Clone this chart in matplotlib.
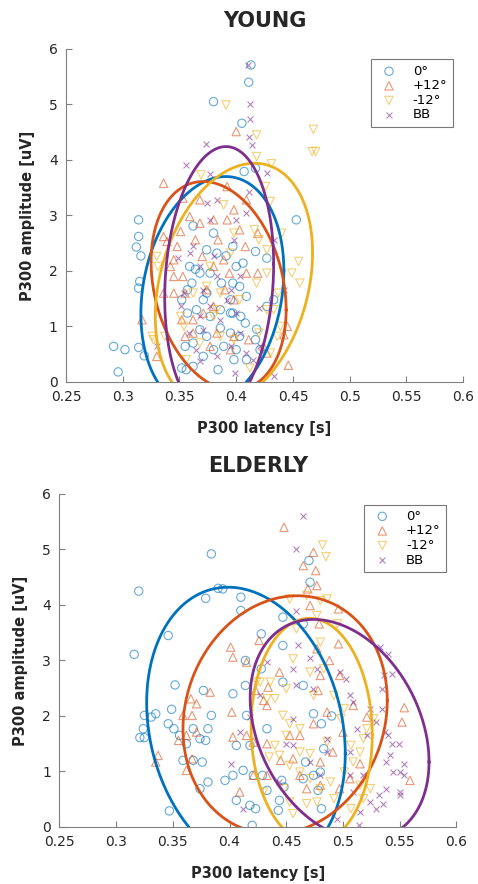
import numpy as np
import matplotlib
matplotlib.use('Agg')
import matplotlib.pyplot as plt

# Cores padrão do MATLAB
cores = ['#0072BD', '#D95319', '#EDB120', '#7E2F8E']
marcadores = ['o', '^', 'v', 'x']
rotulos = ['0°', '+12°', '-12°', 'BB']

# ---------------- YOUNG ----------------
young_0_x = [0.413, 0.411, 0.380, 0.405, 0.407, 0.417, 0.453, 0.314, 0.314, 0.312, 0.316, 0.315, 0.314,
             0.292, 0.302, 0.296, 0.314, 0.319, 0.362, 0.427, 0.417, 0.427, 0.433, 0.418, 0.417, 0.421,
             0.352, 0.362, 0.356, 0.384, 0.398, 0.409, 0.359, 0.364, 0.368, 0.361, 0.357, 0.352, 0.357,
             0.365, 0.374, 0.377, 0.383, 0.380, 0.387, 0.395, 0.397, 0.403, 0.400, 0.406, 0.397, 0.404,
             0.409, 0.408, 0.395, 0.386, 0.374, 0.368, 0.362, 0.355, 0.380, 0.371, 0.389, 0.403, 0.400,
             0.395, 0.386, 0.377, 0.371, 0.397, 0.391, 0.374]
young_0_y = [5.71, 5.40, 5.05, 4.66, 3.79, 3.85, 2.92, 2.92, 2.62, 2.43, 2.27, 1.81, 1.69,
             0.64, 0.58, 0.18, 0.62, 0.47, 2.81, 2.23, 2.35, 1.36, 1.48, 0.95, 0.76, 0.58,
             0.25, 0.28, 0.22, 0.22, 0.40, 0.40, 2.08, 2.03, 1.96, 1.78, 1.66, 1.48, 1.24,
             1.30, 1.60, 1.96, 2.32, 2.68, 1.78, 1.48, 1.24, 1.72, 2.08, 2.14, 2.44, 1.18,
             1.54, 1.06, 0.88, 0.97, 0.82, 0.94, 0.70, 0.64, 0.58, 0.46, 0.64, 0.82, 0.58,
             1.24, 1.30, 1.18, 1.48, 1.78, 2.27, 2.38]

young_p12_x = [0.400, 0.336, 0.353, 0.317, 0.330, 0.446, 0.445, 0.442, 0.336, 0.339, 0.351, 0.348, 0.345,
               0.342, 0.345, 0.353, 0.345, 0.336, 0.355, 0.368, 0.368, 0.364, 0.370, 0.380, 0.392, 0.398,
               0.392, 0.409, 0.403, 0.419, 0.408, 0.389, 0.380, 0.394, 0.409, 0.390, 0.380, 0.371, 0.362,
               0.352, 0.355, 0.362, 0.383, 0.398, 0.411, 0.424, 0.395, 0.377, 0.427, 0.419, 0.398, 0.374,
               0.384, 0.359]
young_p12_y = [4.51, 3.58, 3.31, 1.12, 0.46, 0.30, 1.00, 0.85, 2.62, 2.53, 2.71, 2.44, 2.20,
               2.08, 1.90, 1.90, 1.60, 1.60, 1.60, 3.28, 2.86, 2.56, 2.26, 2.92, 2.92, 3.10,
               3.52, 3.28, 2.74, 2.68, 2.44, 2.20, 2.08, 1.96, 1.96, 1.66, 1.36, 1.24, 1.12,
               1.12, 0.82, 0.88, 0.88, 0.82, 0.76, 0.64, 0.58, 0.64, 0.52, 1.96, 1.48, 1.66,
               2.56, 2.98]

young_m12_x = [0.391, 0.418, 0.468, 0.467, 0.470, 0.418, 0.431, 0.369, 0.389, 0.426, 0.430, 0.416, 0.420,
               0.427, 0.440, 0.455, 0.449, 0.456, 0.418, 0.427, 0.437, 0.433, 0.427, 0.330, 0.331, 0.326,
               0.327, 0.337, 0.351, 0.354, 0.377, 0.374, 0.386, 0.395, 0.383, 0.386, 0.398, 0.412, 0.430,
               0.436, 0.439, 0.368, 0.362, 0.398, 0.420, 0.380, 0.356, 0.403]
young_m12_y = [4.99, 4.45, 4.55, 4.15, 4.15, 4.06, 3.93, 3.73, 3.19, 3.52, 3.25, 2.74, 2.56,
               2.38, 2.68, 2.17, 1.96, 1.78, 1.78, 1.96, 1.60, 1.30, 1.30, 2.26, 2.08, 0.82,
               0.76, 0.82, 1.18, 1.00, 2.08, 1.72, 1.60, 2.32, 1.30, 0.82, 0.76, 0.25, 0.52,
               0.82, 1.00, 0.70, 1.60, 2.68, 0.88, 1.18, 0.40, 1.48]

young_bb_x = [0.410, 0.412, 0.412, 0.411, 0.414, 0.373, 0.356, 0.427, 0.377, 0.411, 0.383, 0.374, 0.409,
              0.400, 0.377, 0.433, 0.398, 0.362, 0.349, 0.359, 0.368, 0.383, 0.403, 0.420, 0.442, 0.392,
              0.377, 0.368, 0.354, 0.351, 0.358, 0.371, 0.386, 0.400, 0.395, 0.383, 0.368, 0.399, 0.433,
              0.365, 0.409, 0.421, 0.415, 0.403, 0.330, 0.380, 0.395, 0.371]
young_bb_y = [5.71, 5.01, 4.73, 4.42, 4.27, 4.28, 3.91, 3.76, 3.75, 3.43, 3.28, 3.22, 3.04,
              2.92, 2.92, 2.56, 2.56, 2.44, 2.23, 2.32, 2.08, 1.90, 1.90, 1.33, 1.66, 1.48,
              1.36, 1.18, 1.60, 1.36, 0.88, 0.94, 1.12, 1.24, 0.64, 0.46, 0.37, 0.16, 0.10,
              0.58, 0.52, 0.64, 0.40, 0.88, 0.64, 2.26, 1.66, 1.66]

# ---------------- ELDERLY ----------------
elderly_0_x = [0.384, 0.320, 0.316, 0.346, 0.352, 0.349, 0.325, 0.324, 0.321, 0.325, 0.331, 0.335, 0.346,
               0.351, 0.356, 0.362, 0.359, 0.368, 0.376, 0.381, 0.374, 0.347, 0.377, 0.384, 0.381, 0.374,
               0.379, 0.368, 0.379, 0.390, 0.394, 0.410, 0.410, 0.447, 0.447, 0.428, 0.471, 0.470, 0.465,
               0.414, 0.428, 0.403, 0.414, 0.406, 0.418, 0.433, 0.415, 0.396, 0.403, 0.412, 0.421, 0.429,
               0.406, 0.418, 0.423, 0.420, 0.444, 0.443, 0.433, 0.448, 0.465, 0.467, 0.474, 0.480, 0.483,
               0.465, 0.474, 0.490, 0.481, 0.478, 0.447, 0.481, 0.446]
elderly_0_y = [4.92, 4.25, 3.11, 3.45, 2.56, 2.12, 2.01, 1.77, 1.61, 1.61, 1.98, 2.04, 1.86,
               1.77, 1.65, 1.50, 1.20, 1.20, 1.17, 0.81, 0.69, 0.29, 2.46, 2.01, 1.77, 1.59,
               1.56, 1.77, 4.12, 4.30, 4.29, 4.14, 3.90, 3.78, 3.27, 3.48, 4.41, 4.80, 3.66,
               3.00, 2.85, 2.40, 2.55, 1.47, 1.47, 1.77, 2.01, 0.84, 0.93, 1.02, 0.93, 0.93,
               0.48, 0.39, 0.33, 0.03, 0.48, 0.30, 0.66, 0.72, 0.87, 1.17, 0.93, 0.99, 1.41,
               2.55, 2.04, 2.00, 0.33, 0.66, 2.61, 1.86, 0.84]

elderly_p12_x = [0.448, 0.474, 0.465, 0.476, 0.469, 0.477, 0.471, 0.479, 0.496, 0.496, 0.477, 0.488, 0.401,
                 0.403, 0.426, 0.444, 0.434, 0.423, 0.415, 0.366, 0.371, 0.383, 0.359, 0.367, 0.355, 0.362,
                 0.367, 0.337, 0.335, 0.362, 0.371, 0.402, 0.403, 0.409, 0.415, 0.430, 0.433, 0.421, 0.433,
                 0.445, 0.453, 0.456, 0.421, 0.433, 0.462, 0.474, 0.478, 0.480, 0.486, 0.497, 0.509, 0.521,
                 0.515, 0.506, 0.497, 0.480, 0.468, 0.554, 0.552, 0.559, 0.480, 0.491, 0.462, 0.500]
elderly_p12_y = [5.40, 4.95, 4.71, 4.62, 4.29, 4.35, 3.99, 3.66, 3.93, 3.30, 3.21, 3.00, 3.24,
                 3.06, 3.36, 2.79, 2.52, 2.46, 2.97, 2.31, 2.22, 2.43, 2.01, 2.01, 1.56, 1.65,
                 1.23, 1.29, 1.17, 1.02, 1.71, 2.07, 1.62, 0.63, 1.65, 2.28, 2.19, 1.53, 1.50,
                 1.20, 1.65, 1.23, 0.93, 0.93, 1.65, 1.86, 2.46, 2.73, 2.07, 2.73, 2.19, 1.98,
                 1.14, 0.87, 0.69, 0.75, 0.69, 2.15, 1.89, 0.84, 1.17, 1.35, 0.93, 1.71]

elderly_m12_x = [0.482, 0.485, 0.468, 0.486, 0.480, 0.453, 0.477, 0.495, 0.459, 0.480, 0.456, 0.471, 0.483,
                 0.436, 0.424, 0.450, 0.440, 0.433, 0.474, 0.492, 0.501, 0.498, 0.447, 0.453, 0.462, 0.450,
                 0.440, 0.444, 0.435, 0.462, 0.471, 0.486, 0.507, 0.518, 0.521, 0.515, 0.509, 0.501, 0.453,
                 0.462, 0.471, 0.480, 0.468, 0.477, 0.456, 0.453, 0.492, 0.507, 0.518, 0.524, 0.515, 0.430,
                 0.448, 0.427, 0.527, 0.489]
elderly_m12_y = [5.08, 4.87, 4.17, 4.11, 4.08, 4.11, 3.81, 3.66, 3.57, 3.33, 3.03, 2.79, 2.85,
                 2.61, 2.61, 2.49, 2.31, 2.31, 2.37, 2.37, 2.13, 1.95, 2.01, 1.86, 1.77, 1.65,
                 1.47, 1.29, 1.26, 1.35, 1.32, 1.53, 1.47, 1.59, 1.77, 1.35, 1.17, 0.99, 1.11,
                 0.99, 0.87, 0.69, 0.42, 0.45, 0.24, 0.45, 0.51, 0.33, 0.51, 0.69, 0.75, 0.63,
                 0.69, 2.61, 1.95, 0.81]

elderly_bb_x = [0.465, 0.459, 0.459, 0.460, 0.471, 0.477, 0.459, 0.456, 0.533, 0.540, 0.536, 0.543, 0.534,
                0.497, 0.503, 0.506, 0.509, 0.524, 0.534, 0.529, 0.537, 0.540, 0.543, 0.549, 0.541, 0.538,
                0.544, 0.550, 0.554, 0.554, 0.550, 0.550, 0.538, 0.532, 0.535, 0.529, 0.524, 0.515, 0.514,
                0.509, 0.518, 0.506, 0.506, 0.512, 0.486, 0.486, 0.495, 0.521, 0.412, 0.401, 0.418, 0.409,
                0.456, 0.450, 0.456, 0.474, 0.480, 0.471, 0.444, 0.427, 0.433]
elderly_bb_y = [5.60, 5.01, 3.90, 3.27, 3.04, 2.85, 2.55, 2.85, 3.24, 3.12, 2.73, 2.76, 2.49,
                2.79, 2.67, 2.37, 2.25, 2.13, 2.13, 1.89, 1.71, 1.65, 1.50, 1.50, 1.29, 1.17,
                0.99, 0.99, 1.14, 0.93, 0.63, 0.57, 0.69, 0.57, 0.42, 0.33, 0.45, 0.27, 0.03,
                0.63, 0.93, 0.93, 1.35, 1.77, 1.59, 1.35, 0.15, 1.65, 0.33, 1.14, 1.98, 1.71,
                1.47, 1.50, 1.95, 2.49, 0.93, 1.17, 0.81, 2.37, 2.97]

# Parâmetros das elipses: centro x, semi-eixo x, centro y, semi-eixo y, correlação
young_elipses = [(0.379, 0.063, 1.615, 2.085, 0.187),
                 (0.3845, 0.0595, 1.73, 1.88, -0.23),
                 (0.398, 0.0693, 1.75, 2.19, 0.263),
                 (0.385, 0.048, 1.82, 2.42, 0.125)]
elderly_elipses = [(0.4145, 0.0875, 1.78, 2.54, -0.18),
                   (0.449, 0.090, 2.02, 2.146, 0.12),
                   (0.4724, 0.0534, 1.73, 2.03, -0.035),
                   (0.497, 0.0788, 1.75, 1.99, -0.29)]

paineis = [
    ('YOUNG', [(young_0_x, young_0_y), (young_p12_x, young_p12_y),
               (young_m12_x, young_m12_y), (young_bb_x, young_bb_y)], young_elipses,
     [0.138, 0.568, 0.831, 0.3767]),
    ('ELDERLY', [(elderly_0_x, elderly_0_y), (elderly_p12_x, elderly_p12_y),
                 (elderly_m12_x, elderly_m12_y), (elderly_bb_x, elderly_bb_y)], elderly_elipses,
     [0.124, 0.0645, 0.831, 0.3767]),
]

fig = plt.figure(figsize=(4.78, 8.84), dpi=100)
cor_eixo = '#808080'
cor_texto = '#262626'
t = np.linspace(0, 2 * np.pi, 300)

for titulo, series, elipses, pos in paineis:
    ax = fig.add_axes(pos)

    # Pontos
    for (xs, ys), cor, m, rot in zip(series, cores, marcadores, rotulos):
        if m == 'x':
            ax.scatter(xs, ys, s=18, marker=m, color=cor, alpha=0.6, linewidths=0.8, label=rot)
        else:
            ax.scatter(xs, ys, s=36, marker=m, facecolors='none', edgecolors=cor, alpha=0.6,
                       linewidths=0.8, label=rot)

    # Elipses de confiança
    for (cx, a, cy, b, r), cor in zip(elipses, cores):
        ex = cx + a * np.cos(t)
        ey = cy + b * (r * np.cos(t) + np.sqrt(1 - r ** 2) * np.sin(t))
        ax.plot(ex, ey, color=cor, lw=2)

    ax.set_xlim(0.25, 0.6)
    ax.set_ylim(0, 6)
    ax.set_xticks(np.arange(0.25, 0.601, 0.05))
    ax.set_xticklabels(['0.25', '0.3', '0.35', '0.4', '0.45', '0.5', '0.55', '0.6'])
    ax.set_yticks(range(7))
    ax.tick_params(direction='in', length=4, color=cor_eixo, labelcolor=cor_texto, labelsize=10, pad=6)
    for lado in ['top', 'right']:
        ax.spines[lado].set_visible(False)
    for lado in ['left', 'bottom']:
        ax.spines[lado].set_color(cor_eixo)

    ax.set_title(titulo, fontsize=15, fontweight='bold', color=cor_texto, pad=16)
    ax.set_xlabel('P300 latency [s]', fontsize=10.5, fontweight='bold', color=cor_texto, labelpad=12)
    ax.set_ylabel('P300 amplitude [uV]', fontsize=10.5, fontweight='bold', color=cor_texto, labelpad=10)

    leg = ax.legend(loc='upper right', fontsize=9.5, frameon=True, fancybox=False,
                    borderaxespad=0.8, handletextpad=0.8, labelspacing=0.12, borderpad=0.4)
    leg.get_frame().set_edgecolor('#555555')
    leg.get_frame().set_linewidth(0.8)

plt.savefig('out.png', dpi=100)
